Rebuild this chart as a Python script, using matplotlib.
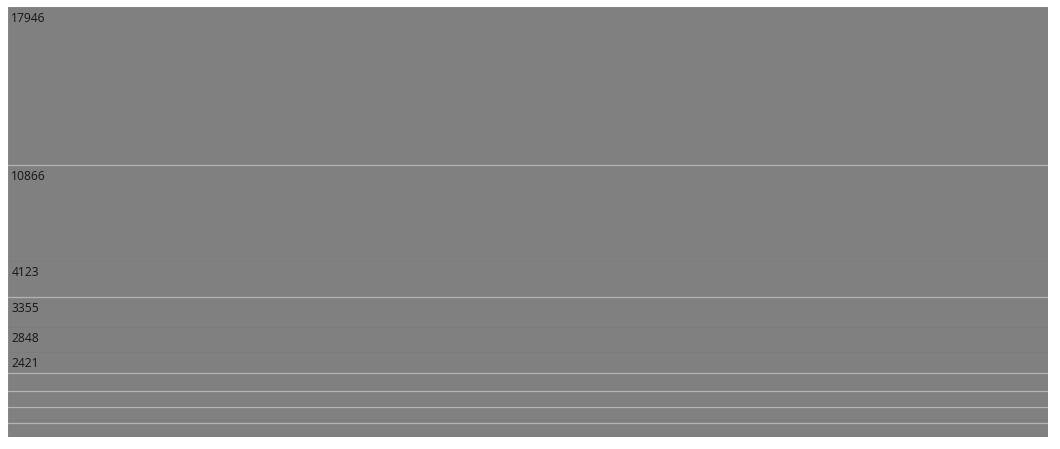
import matplotlib
matplotlib.use("Agg")
import matplotlib.pyplot as plt
from matplotlib.patches import Rectangle

# 各组数值 (从上到下)
group_1 = [17946]
group_2 = [10866, 4123]
group_3 = [3355, 2848, 2421]
group_4 = [1816, 227]
group_5 = [1670, 150]
group_6 = [1476, 340]
group_7 = [1590]
groups = [group_1, group_2, group_3, group_4, group_5, group_6, group_7]

plt.rcParams['font.family'] = ['Open Sans', 'DejaVu Sans']

fig = plt.figure(figsize=(10.6, 4.49), dpi=100)
ax = fig.add_axes([8 / 1060, 12 / 449, 1040 / 1060, 430 / 449])

total = sum(sum(g) for g in groups)
ax.set_xlim(0, 1)
ax.set_ylim(total, 0)
ax.axis('off')

fill = '#808080'
y = 0
for g in groups:
    gy = y
    for v in g:
        ax.add_patch(Rectangle((0, y), 1, v, facecolor=fill,
                               edgecolor='#7c7c7c', linewidth=0.6))
        if v >= 2400:
            ax.annotate(str(v), xy=(0, y), xytext=(2.3, -8.6),
                        textcoords='offset points', va='center', ha='left',
                        fontsize=8.7, color='#151515')
        y += v
    # 组之间的浅色分隔线
    if gy > 0:
        ax.axhline(gy, color='#b4b4b4', linewidth=0.9)

fig.savefig('out.png', dpi=100)
